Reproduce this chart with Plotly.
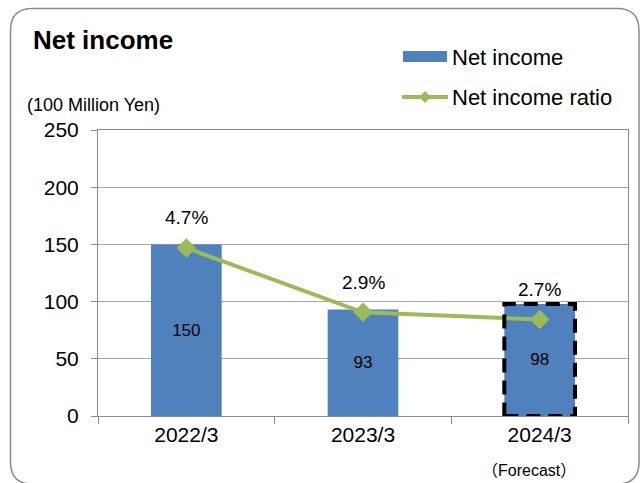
import plotly.graph_objects as go

# Data
categories = ["2022/3", "2023/3", "2024/3"]
net_income = [150, 93, 98]
ratio_pct = [4.7, 2.9, 2.7]
forecast_index = 2

BAR_BLUE = "#4F81BD"
LINE_GREEN = "#9BBB59"
GRID = "#A6A6A6"
AXIS = "#8C8C8C"
FONT = "Arial, 'Liberation Sans', 'Noto Sans CJK JP', sans-serif"
CJK = "'Noto Sans CJK JP', sans-serif"

W, H = 641, 483
ML, MR, MT, MB = 98, 13, 130, 67
PW, PH = W - ML - MR, H - MT - MB
BAR_WIDTH = 0.4


def fx(px):
    return (px - ML) / PW


def fy(py):
    return (H - MB - py) / PH


fig = go.Figure()

fig.add_trace(go.Bar(
    x=categories, y=net_income, width=BAR_WIDTH,
    marker=dict(color=BAR_BLUE, line=dict(width=0)),
    text=[str(v) for v in net_income], textposition="inside",
    insidetextanchor="middle", textangle=0,
    textfont=dict(family=FONT, size=17, color="#000000"),
    name="Net income", showlegend=False, cliponaxis=False,
))

fig.add_trace(go.Scatter(
    x=categories, y=ratio_pct, yaxis="y2", mode="lines+markers",
    line=dict(color=LINE_GREEN, width=4),
    marker=dict(symbol="diamond", size=15, color=LINE_GREEN),
    name="Net income ratio", showlegend=False, cliponaxis=False,
))

# Ratio labels above the markers
for c, r in zip(categories, ratio_pct):
    fig.add_annotation(x=c, y=r, yref="y2", text=f"{r}%", showarrow=False,
                       yshift=30, font=dict(family=FONT, size=19, color="#000000"))

# Dashed outline marking the forecast bar
fig.add_shape(type="rect", xref="x", yref="y",
              x0=forecast_index - BAR_WIDTH / 2, x1=forecast_index + BAR_WIDTH / 2,
              y0=0, y1=net_income[forecast_index],
              line=dict(color="#000000", width=4, dash="14px,8px"), layer="above")

# Forecast note under the last category
fig.add_annotation(x=categories[forecast_index], xref="x", y=fy(470), yref="paper",
                   text=(f"<span style='font-family:{CJK}'>（</span>Forecast"
                         f"<span style='font-family:{CJK}'>）</span>"),
                   showarrow=False, yanchor="middle", xshift=-11,
                   font=dict(family=FONT, size=16, color="#000000"))

# Unit label
fig.add_annotation(x=fx(25), xref="paper", y=fy(105), yref="paper",
                   text="(100 Million Yen)", showarrow=False, xanchor="left",
                   yanchor="middle", font=dict(family=FONT, size=18, color="#000000"))

# Legend drawn by hand
fig.add_shape(type="rect", xref="paper", yref="paper",
              x0=fx(403), x1=fx(447), y0=fy(62), y1=fy(51),
              fillcolor=BAR_BLUE, line=dict(width=0))
fig.add_shape(type="line", xref="paper", yref="paper",
              x0=fx(402), x1=fx(448), y0=fy(97), y1=fy(97),
              line=dict(color=LINE_GREEN, width=4))
cx, cy, d = 425, 97, 6
fig.add_shape(type="path", xref="paper", yref="paper",
              path=(f"M{fx(cx - d)},{fy(cy)} L{fx(cx)},{fy(cy - d)} "
                    f"L{fx(cx + d)},{fy(cy)} L{fx(cx)},{fy(cy + d)} Z"),
              fillcolor=LINE_GREEN, line=dict(width=0))
for label, py in (("Net income", 57), ("Net income ratio", 97)):
    fig.add_annotation(x=fx(450), xref="paper", y=fy(py), yref="paper",
                       text=label, showarrow=False, xanchor="left", yanchor="middle",
                       font=dict(family=FONT, size=22, color="#000000"))

# Rounded frame around the whole chart
x0, y0, x1, y1, rr = 10.5, 8.5, 639, 484, 22
frame = (f"M{fx(x0 + rr)},{fy(y0)} L{fx(x1 - rr)},{fy(y0)} "
         f"Q{fx(x1)},{fy(y0)} {fx(x1)},{fy(y0 + rr)} "
         f"L{fx(x1)},{fy(y1 - rr)} Q{fx(x1)},{fy(y1)} {fx(x1 - rr)},{fy(y1)} "
         f"L{fx(x0 + rr)},{fy(y1)} Q{fx(x0)},{fy(y1)} {fx(x0)},{fy(y1 - rr)} "
         f"L{fx(x0)},{fy(y0 + rr)} Q{fx(x0)},{fy(y0)} {fx(x0 + rr)},{fy(y0)} Z")
fig.add_shape(type="path", xref="paper", yref="paper", path=frame,
              line=dict(color="#8C8C8C", width=1.5))

fig.update_layout(
    width=W, height=H,
    margin=dict(l=ML, r=MR, t=MT, b=MB),
    paper_bgcolor="#FFFFFF", plot_bgcolor="#FFFFFF",
    font=dict(family=FONT, color="#000000"),
    bargap=0.6,
    title=dict(text="<b>Net income</b>", x=33 / W, xref="container", xanchor="left",
               y=1 - 40 / H, yref="container", yanchor="middle",
               font=dict(family=FONT, size=26, color="#000000")),
    xaxis=dict(type="category", range=[-0.5, 2.5], tickson="boundaries",
               ticks="outside", ticklen=7, tickcolor=AXIS, showline=True,
               linecolor=AXIS, mirror=True, showgrid=False,
               tickfont=dict(family=FONT, size=21, color="#000000")),
    yaxis=dict(range=[0, 250], dtick=50, ticks="outside", ticklen=6,
               tickcolor=AXIS, showline=True, linecolor=AXIS, mirror=True,
               gridcolor=GRID, gridwidth=1, zeroline=False,
               ticklabelstandoff=8,
               tickfont=dict(family=FONT, size=21, color="#000000")),
    yaxis2=dict(range=[0, 8], overlaying="y", side="right", visible=False),
)

fig.write_html("out.html")
